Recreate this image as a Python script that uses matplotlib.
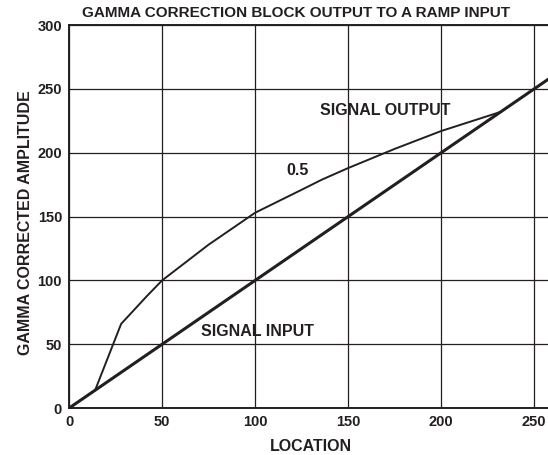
import matplotlib
matplotlib.use("Agg")
import matplotlib.pyplot as plt

# Ramp input (identity) and gamma-corrected output
input_x = [0, 258]
input_y = [0, 258]

output_x = [0, 14, 28, 42, 50, 75, 100, 125, 136, 150, 175, 200, 232]
output_y = [0, 14, 66, 88, 100, 128, 153, 171, 179, 188, 203, 217, 232]

x_ticks = [0, 50, 100, 150, 200, 250]
y_ticks = [0, 50, 100, 150, 200, 250, 300]

plt.rcParams["font.family"] = ["Liberation Sans", "DejaVu Sans"]
plt.rcParams["font.weight"] = "bold"

ink = "#231f20"

fig = plt.figure(figsize=(5.48, 4.55), dpi=100)
ax = fig.add_axes([0.126, 0.103, 0.876, 0.842])

ax.set_xlim(0, 258)
ax.set_ylim(0, 300)
ax.set_xticks(x_ticks)
ax.set_yticks(y_ticks)
ax.tick_params(length=0, labelsize=10.5, colors=ink, pad=5)
for lbl in ax.get_xticklabels() + ax.get_yticklabels():
    lbl.set_fontweight("bold")

ax.grid(True, color=ink, linewidth=0.9)
ax.set_axisbelow(True)
for sp in ax.spines.values():
    sp.set_color(ink)
    sp.set_linewidth(1.4)
ax.spines["right"].set_visible(False)

ax.plot(input_x, input_y, color=ink, linewidth=2.2, solid_capstyle="butt")
ax.plot(output_x, output_y, color=ink, linewidth=1.4)

ax.text(135, 233, "SIGNAL OUTPUT", fontsize=11.5, fontweight="bold", color=ink,
        ha="left", va="center")
ax.text(123, 186, "0.5", fontsize=11.5, fontweight="bold", color=ink,
        ha="center", va="center")
ax.text(71, 60, "SIGNAL INPUT", fontsize=11.5, fontweight="bold", color=ink,
        ha="left", va="center")

fig.text(0.54, 0.972, "GAMMA CORRECTION BLOCK OUTPUT TO A RAMP INPUT",
         fontsize=11, fontweight="bold", color=ink, ha="center", va="center")
ax.set_xlabel("LOCATION", fontsize=11.5, fontweight="bold", color=ink, va="center")
ax.xaxis.set_label_coords(0.503, -0.1)
ax.set_ylabel("GAMMA CORRECTED AMPLITUDE", fontsize=11.5, fontweight="bold",
              color=ink, va="center")
ax.yaxis.set_label_coords(-0.09, 0.485)

fig.savefig("out.png", dpi=100)
